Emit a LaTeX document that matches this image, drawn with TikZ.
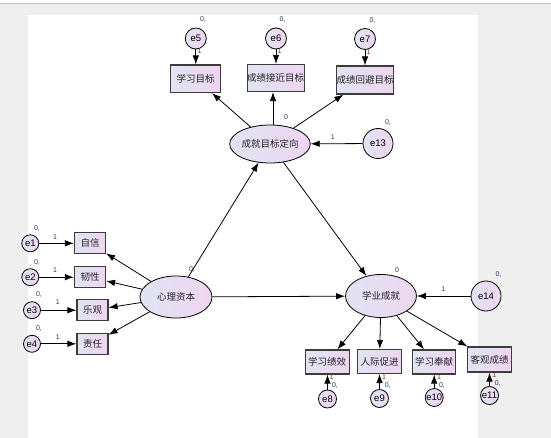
\documentclass[tikz,border=0pt]{standalone}
\usepackage{fontspec}
\setmainfont{Liberation Sans}
\newfontfamily\cjk{Noto Sans CJK SC}
\usetikzlibrary{shapes.geometric,arrows.meta}
\definecolor{bgray}{HTML}{EFEFEF}
\definecolor{lgray}{HTML}{C4C4C4}
\definecolor{fillL}{RGB}{224,228,243}
\definecolor{fillR}{RGB}{239,213,241}
\definecolor{boxc}{HTML}{3C3C3C}
\definecolor{navy}{HTML}{22386A}
\definecolor{dred}{HTML}{8A2A10}
\tikzset{
  obs/.style={rectangle, draw=boxc, line width=1.2pt, left color=fillL, right color=fillR,
    inner sep=0pt, font=\cjk\fontsize{9.5}{9.5}\selectfont, text=black!85},
  lat/.style={ellipse, draw=black, line width=0.8pt, left color=fillL, right color=fillR,
    inner sep=0pt, font=\cjk\fontsize{9.5}{9.5}\selectfont, text=black!85},
  err/.style={circle, draw=black, line width=0.8pt, left color=fillL, right color=fillR,
    inner sep=0pt, font=\fontsize{9.5}{9.5}\selectfont},
  conn/.style={line width=0.8pt, -{Latex[length=9pt,width=6.5pt]}},
  lab/.style={font=\fontsize{7}{7}\selectfont, text=navy, inner sep=0pt},
  labr/.style={font=\fontsize{7}{7}\selectfont, text=dred, inner sep=0pt},
}
\begin{document}
\begin{tikzpicture}[x=1pt,y=-1pt]
\useasboundingbox (0,0) rectangle (551,438);
% background
\fill[white] (0,0) rectangle (551,438);
\fill[bgray] (0,4) rectangle (551,438);
\draw[lgray, line width=0.8pt] (0,3.3) -- (551,3.3);
\fill[white] (28,15) rectangle (478,438);

% latent variables
\node[lat, minimum width=70pt, minimum height=38pt] (ago) at (270,144) {成就目标定向};
\node[lat, minimum width=72pt, minimum height=42pt] (psy) at (176,297) {心理资本};
\node[lat, minimum width=71pt, minimum height=43pt] (aca) at (381,296) {学业成就};

% top observed
\node[obs, minimum width=50pt, minimum height=27.5pt] (t1) at (195.7,78.8) {学习目标};
\node[obs, minimum width=50pt, minimum height=27pt] (t2) at (275.7,78) {成绩接近目标};
\node[obs, minimum width=50pt, minimum height=28pt] (t3) at (365,80) {成绩回避目标};

% left observed
\node[obs, minimum width=31pt, minimum height=21pt] (l1) at (90,243.3) {自信};
\node[obs, minimum width=31pt, minimum height=21pt] (l2) at (90,277.2) {韧性};
\node[obs, minimum width=31pt, minimum height=21pt] (l3) at (92.5,310.2) {乐观};
\node[obs, minimum width=31pt, minimum height=21pt] (l4) at (92.5,343.8) {责任};

% bottom observed
\node[obs, minimum width=44pt, minimum height=24pt] (b1) at (327.2,362) {学习绩效};
\node[obs, minimum width=44pt, minimum height=24pt] (b2) at (379.5,361.5) {人际促进};
\node[obs, minimum width=43pt, minimum height=24pt] (b3) at (434.2,362) {学习奉献};
\node[obs, minimum width=44pt, minimum height=25pt] (b4) at (489.7,359.5) {客观成绩};

% error terms
\node[err, minimum size=21pt] (e5) at (195.8,38.5) {e5};
\node[err, minimum size=21pt] (e6) at (276,38.5) {e6};
\node[err, minimum size=21pt] (e7) at (365,39) {e7};
\node[err, minimum size=30pt] (e13) at (378,143.5) {e13};
\node[err, minimum size=30pt] (e14) at (486,296) {e14};
\node[err, minimum size=17pt] (e1) at (30.3,243.3) {e1};
\node[err, minimum size=17pt] (e2) at (30.3,277.2) {e2};
\node[err, minimum size=17pt] (e3) at (32,310.2) {e3};
\node[err, minimum size=17pt] (e4) at (32,343.8) {e4};
\node[err, minimum size=18pt] (e8) at (327.5,399) {e8};
\node[err, minimum size=18pt] (e9) at (379.5,398.5) {e9};
\node[err, minimum size=18pt] (e10) at (434.2,397.5) {e10};
\node[err, minimum size=18pt] (e11) at (489.5,395.5) {e11};

% connectors
\draw[conn] (ago) -- (t1);
\draw[conn] (ago.north) ++(3pt,0) coordinate (agon) (agon) -- (agon |- t2.south);
\draw[conn] (ago) -- (t3);
\draw[conn] (psy) -- (ago);
\draw[conn] (ago) -- (aca);
\draw[conn] (psy) -- (aca);
\draw[conn] (psy) -- (l1);
\draw[conn] (psy) -- (l2);
\draw[conn] (psy) -- (l3);
\draw[conn] (psy) -- (l4);
\draw[conn] (aca) -- (b1);
\draw[conn] (aca) -- (b2);
\draw[conn] (aca) -- (b3);
\draw[conn] (aca) -- (b4);
\draw[conn] (e5) -- (e5 |- t1.north);
\draw[conn] (e6) -- (e6 |- t2.north);
\draw[conn] (e7) -- (e7 |- t3.north);
\draw[conn] (e13) -- (ago);
\draw[conn] (e14) -- (aca);
\draw[conn] (e1) -- (l1);
\draw[conn] (e2) -- (l2);
\draw[conn] (e3) -- (l3);
\draw[conn] (e4) -- (l4);
\draw[conn] (e8) -- (e8 |- b1.south);
\draw[conn] (e9) -- (e9 |- b2.south);
\draw[conn] (e10) -- (e10 |- b3.south);
\draw[conn] (e11) -- (e11 |- b4.south);

% parameter labels
\node[lab] (p5) at (203,19.5) {0,};
\node[lab] (p6) at (282.5,19.5) {0,};
\node[lab] (p7) at (372.5,20.5) {0,};
\node[labr] (w5) at (199.5,51.5) {1};
\node[labr] (w6) at (279.5,51.5) {1};
\node[labr] (w7) at (368.5,52.5) {1};
\node[lab] (pago) at (286,117) {0};
\node[lab] (p13) at (388,123) {0,};
\node[labr] (w13) at (332.7,136.7) {1};
\node[lab] (ppsy) at (192,270) {0,};
\node[lab] (paca) at (397,270) {0};
\node[lab] (p14) at (498.5,275) {0,};
\node[lab] (w14) at (443.3,289.3) {1};
\node[lab] (p1) at (37,228.5) {0,};
\node[lab] (w1) at (55,236.7) {1};
\node[lab] (p2) at (37,262.7) {0,};
\node[lab] (w2) at (55,270.2) {1};
\node[lab] (p3) at (39,295) {0,};
\node[lab] (w3) at (57.7,301.7) {1};
\node[lab] (p4) at (39,328.3) {0,};
\node[lab] (w4) at (57.7,336.7) {1};
\node[labr] (w8) at (331.5,377.5) {1};
\node[lab] (p8) at (335,385.5) {0,};
\node[labr] (w9) at (384,377) {1};
\node[lab] (p9) at (387.7,385.5) {0,};
\node[labr] (w10) at (439,377) {1};
\node[lab] (p10) at (442,385.5) {0,};
\node[labr] (w11) at (494.3,375) {1};
\node[lab] (p11) at (497.7,383.3) {0,};
\end{tikzpicture}
\end{document}
